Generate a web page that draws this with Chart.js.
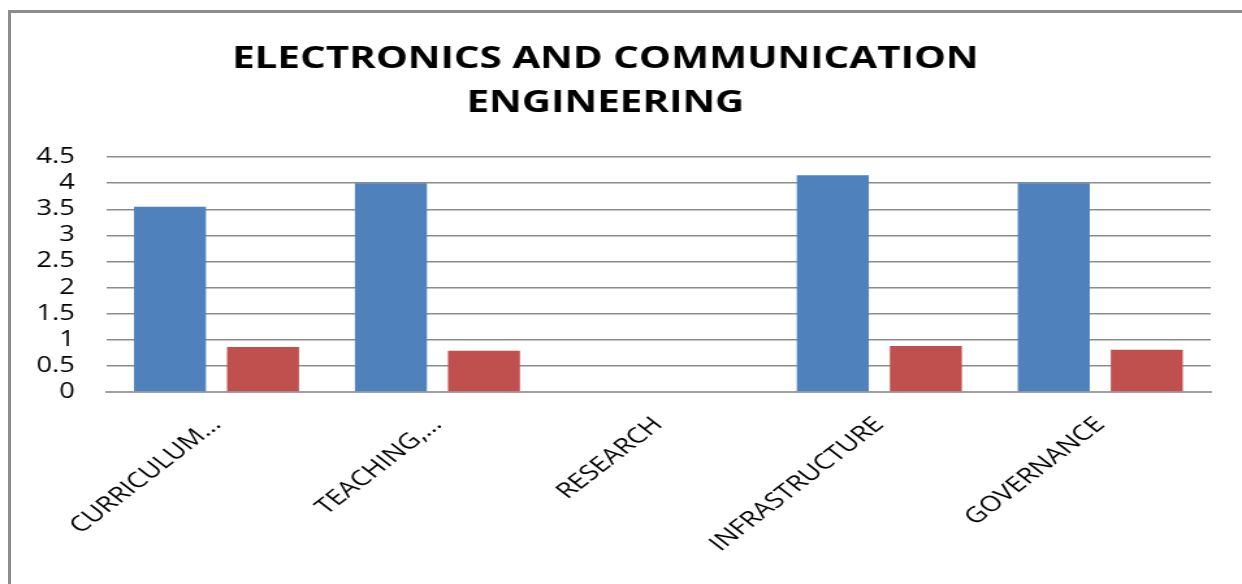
<!DOCTYPE html>
<html>
<head>
<meta charset="utf-8">
<script src="https://cdn.jsdelivr.net/npm/chart.js@4"></script>
<style>
    body { margin: 0; background: #fff; overflow: hidden; }
    #wrap { position: relative; width: 1242px; height: 584px; overflow: hidden; }
    #frame { position: absolute; left: 8px; top: 10px; right: -5px; bottom: -5px;
             border-top: 3px solid #8c8c8c; border-left: 3px solid #8c8c8c; }
    /* the original picture is stretched sideways, so the chart is drawn narrow and widened */
    #chart-ece { position: absolute; left: 0; top: 0; width: 955px; height: 584px;
                 transform: scaleX(1.3005); transform-origin: 0 0; }
</style>
</head>
<body>
<div id="wrap">
    <div id="frame"></div>
    <canvas id="chart-ece" width="955" height="584"></canvas>
</div>
<script>
const categories = ['CURRICULUM…', 'TEACHING,…', 'RESEARCH', 'INFRASTRUCTURE', 'GOVERNANCE'];
const seriesA = [3.55, 4.0, 0, 4.15, 4.0];
const seriesB = [0.86, 0.79, 0, 0.88, 0.81];
const yTicks = [0, 0.5, 1, 1.5, 2, 2.5, 3, 3.5, 4, 4.5];

const fontFamily = "'Open Sans', 'DejaVu Sans', sans-serif";

new Chart(document.getElementById('chart-ece'), {
    type: 'bar',
    data: {
        labels: categories,
        datasets: [
            {
                label: 'Series 1',
                data: seriesA,
                backgroundColor: '#4F81BD'
            },
            {
                label: 'Series 2',
                data: seriesB,
                backgroundColor: '#C0504D'
            }
        ]
    },
    options: {
        responsive: false,
        animation: false,
        devicePixelRatio: 1,
        categoryPercentage: 0.842,
        barPercentage: 0.774,
        layout: {
            padding: { left: 0, right: 24, top: 0, bottom: 0 }
        },
        plugins: {
            legend: { display: false },
            tooltip: { enabled: false },
            title: {
                display: true,
                text: ['ELECTRONICS AND COMMUNICATION', 'ENGINEERING'],
                color: '#000',
                font: { family: fontFamily, size: 31, weight: 'bold', lineHeight: 1.42 },
                padding: { top: 37, bottom: 32 }
            }
        },
        scales: {
            x: {
                grid: { display: false, drawTicks: false },
                border: { display: true, color: '#a0a0a0', width: 2 },
                ticks: {
                    color: '#000',
                    font: { family: fontFamily, size: 21.5 },
                    minRotation: 45,
                    maxRotation: 45,
                    autoSkip: false,
                    labelOffset: 0,
                    padding: 20
                },
                afterFit: scale => { scale.height = 192; }
            },
            y: {
                min: 0,
                max: 4.5,
                afterBuildTicks: scale => {
                    scale.ticks = yTicks.map(v => ({ value: v }));
                },
                grid: { color: '#8c8c8c', lineWidth: 1.5, drawTicks: false },
                border: { display: false },
                ticks: {
                    color: '#000',
                    font: { family: fontFamily, size: 21, lineHeight: 1 },
                    autoSkip: false,
                    padding: 24,
                    callback: v => String(v)
                },
                afterFit: scale => { scale.width = 81.5; }
            }
        }
    }
});
</script>
</body>
</html>
